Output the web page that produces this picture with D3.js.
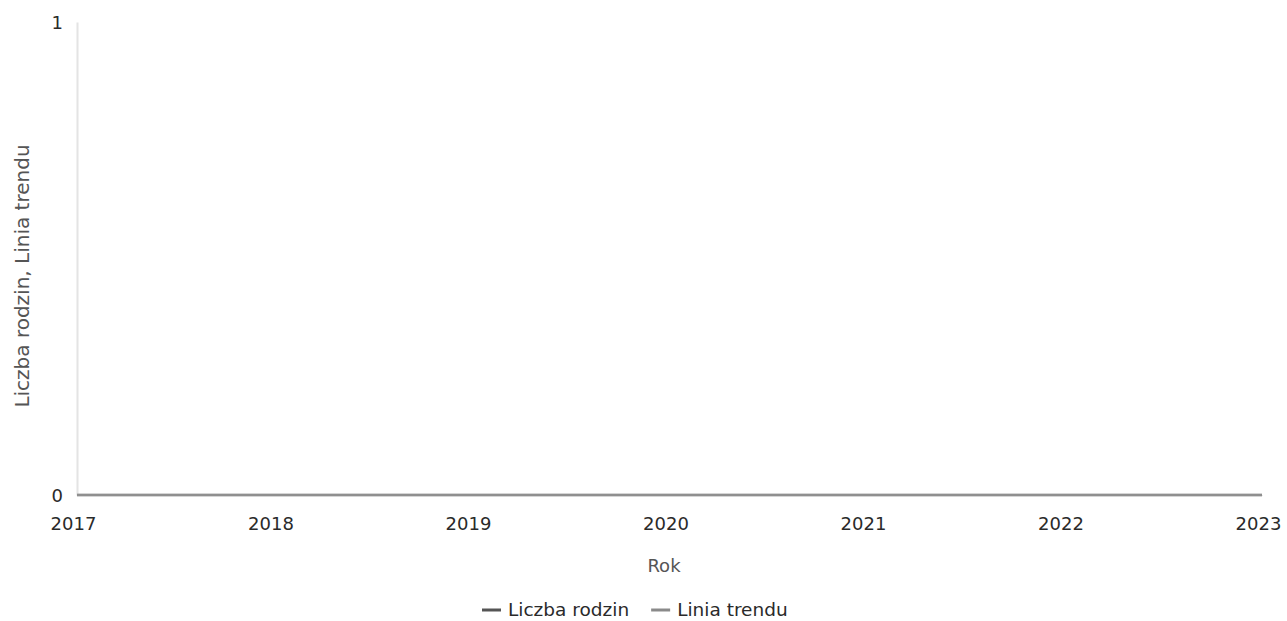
<!DOCTYPE html>
<html>
<head>
<meta charset="utf-8">
<script src="https://cdn.jsdelivr.net/npm/d3@7"></script>
<style>
  body { margin: 0; background: #fff; }
  svg { display: block; font-family: "DejaVu Sans", Verdana, sans-serif; }
</style>
</head>
<body>
<svg id="chart" width="1287" height="621"></svg>
<script>
const years = [2017, 2018, 2019, 2020, 2021, 2022, 2023];
const liczbaRodzin = [0, 0, 0, 0, 0, 0, 0];
const liniaTrendu = [0, 0, 0, 0, 0, 0, 0];
const yTicks = [0, 1];
const seriesNames = ["Liczba rodzin", "Linia trendu"];

const svg = d3.select("#chart");
const W = 1287, H = 621;
const margin = { left: 77, right: 25, top: 22, bottom: 126 };

const x = d3.scaleLinear().domain([2017, 2023]).range([margin.left, W - margin.right]);
const y = d3.scaleLinear().domain([0, 1]).range([H - margin.bottom, margin.top]);

// y axis
const yAxis = svg.append("g").attr("transform", `translate(${margin.left},0)`)
  .call(d3.axisLeft(y).tickValues(yTicks).tickFormat(d3.format("d")).tickSize(0).tickPadding(14));
yAxis.attr("font-family", null).attr("font-size", null);
yAxis.select(".domain").attr("stroke", "#e4e4e4").attr("stroke-width", 2);
yAxis.selectAll("text").style("font-size", "18px").attr("fill", "#2a2a2a").attr("dy", "0.38em");

// x axis
const xAxis = svg.append("g").attr("transform", `translate(0,${H - margin.bottom})`)
  .call(d3.axisBottom(x).tickValues(years).tickFormat(d3.format("d")).tickSize(0).tickPadding(21));
xAxis.attr("font-family", null).attr("font-size", null);
xAxis.select(".domain").attr("stroke", "#d6d6d6").attr("stroke-width", 1);
xAxis.selectAll("text").style("font-size", "18px").attr("fill", "#2a2a2a")
  .attr("dy", "0.75em").attr("dx", "-4");

// lines
const line = d3.line().x((d, i) => x(years[i])).y(d => y(d));
svg.append("path").datum(liniaTrendu).attr("fill", "none")
  .attr("stroke", "#b0b0b0").attr("stroke-width", 2.5).attr("d", line);
svg.append("path").datum(liczbaRodzin).attr("fill", "none")
  .attr("stroke", "#8a8a8a").attr("stroke-width", 2.5).attr("stroke-opacity", 0.85).attr("d", line);

// axis titles
svg.append("text").attr("x", 664).attr("y", 572).attr("text-anchor", "middle")
  .style("font-size", "18px").attr("fill", "#555").text("Rok");
svg.append("text").attr("transform", "translate(29,276) rotate(-90)").attr("text-anchor", "middle")
  .style("font-size", "20px").attr("fill", "#555").text("Liczba rodzin, Linia trendu");

// legend
const legendColors = ["#555", "#8a8a8a"];
const lg = svg.append("g");
let lx = 482;
seriesNames.forEach((n, i) => {
  lg.append("line").attr("x1", lx).attr("x2", lx + 19).attr("y1", 610).attr("y2", 610)
    .attr("stroke", legendColors[i]).attr("stroke-width", 3);
  const t = lg.append("text").attr("x", lx + 26).attr("y", 616).style("font-size", "18.5px")
    .attr("fill", "#2a2a2a").text(n);
  lx += 26 + t.node().getComputedTextLength() + 22;
});
</script>
</body>
</html>
